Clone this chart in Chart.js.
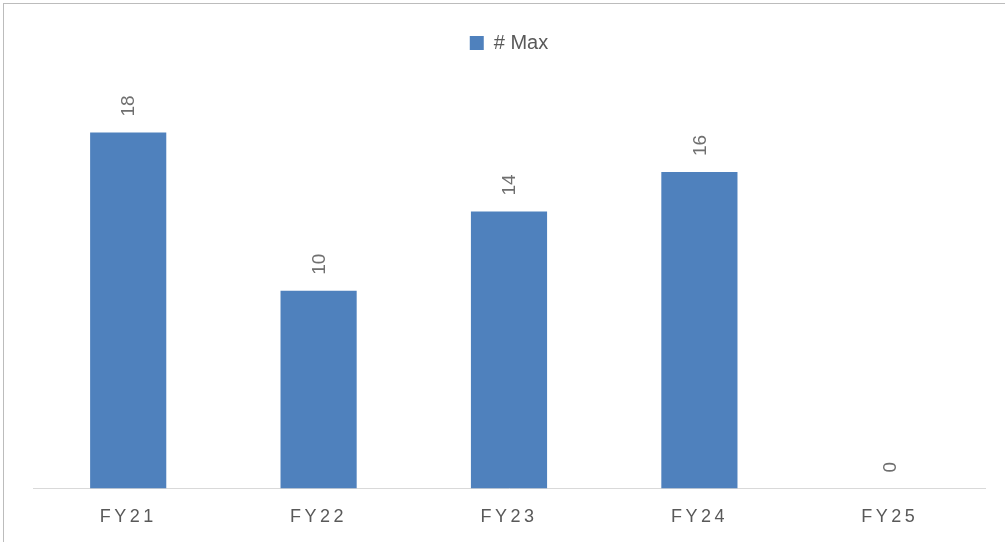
<!DOCTYPE html>
<html>
<head>
<meta charset="utf-8">
<script src="https://cdn.jsdelivr.net/npm/chart.js@4.4.1/dist/chart.umd.min.js"></script>
<style>
  html, body { margin: 0; padding: 0; background: #ffffff; }
  #wrap { position: relative; width: 1005px; height: 542px; overflow: hidden; }
  #frame { position: absolute; left: 3px; top: 3px; width: 1100px; height: 700px;
           border-top: 1px solid #bcbcbc; border-left: 1px solid #bcbcbc; pointer-events: none; }
</style>
</head>
<body>
<div id="wrap">
  <canvas id="chart" width="1005" height="542"></canvas>
  <div id="frame"></div>
</div>
<script>
const categories = ['FY21', 'FY22', 'FY23', 'FY24', 'FY25'];
const seriesName = '# Max';
const maxValues = [18, 10, 14, 16, 0];

const BAR_BLUE = '#4f81bd';
const TEXT_GREY = '#595959';
const LABEL_GREY = '#6f6f6f';
const FONT = "'Liberation Sans', 'DejaVu Sans', sans-serif";

// Empty layout box that leaves room between the legend and the plot
const legendGap = {
  id: 'legendGap',
  beforeInit(chart) {
    Chart.layouts.addBox(chart, {
      position: 'top',
      weight: 500,
      fullSize: true,
      options: {},
      isHorizontal() { return true; },
      update(maxWidth) { this.width = maxWidth; this.height = 30; },
      draw() {}
    });
  }
};

// Rotated value labels above each bar, then letter-spaced category labels
const valueLabels = {
  id: 'valueLabels',
  afterDatasetsDraw(chart) {
    const ctx = chart.ctx;
    const meta = chart.getDatasetMeta(0);
    ctx.save();
    ctx.fillStyle = LABEL_GREY;
    ctx.font = '19px ' + FONT;
    ctx.textAlign = 'left';
    ctx.textBaseline = 'middle';
    meta.data.forEach((bar, i) => {
      const v = chart.data.datasets[0].data[i];
      ctx.save();
      ctx.translate(bar.x, bar.y - 16);
      ctx.rotate(-Math.PI / 2);
      ctx.fillText(String(v), 0, 1);
      ctx.restore();
    });
    ctx.restore();
    ctx.letterSpacing = '3.5px';
  },
  afterDraw(chart) {
    chart.ctx.letterSpacing = '0px';
  }
};

new Chart(document.getElementById('chart'), {
  type: 'bar',
  data: {
    labels: categories,
    datasets: [{
      label: seriesName,
      data: maxValues,
      backgroundColor: BAR_BLUE,
      borderWidth: 0,
      categoryPercentage: 0.8,
      barPercentage: 0.5
    }]
  },
  options: {
    responsive: false,
    animation: false,
    devicePixelRatio: 1,
    layout: { padding: { left: 33, right: 20, top: 27, bottom: 4 } },
    plugins: {
      legend: {
        position: 'top',
        labels: {
          boxWidth: 14,
          boxHeight: 14,
          padding: 6,
          color: TEXT_GREY,
          font: { size: 20, family: FONT }
        }
      },
      tooltip: { enabled: false }
    },
    scales: {
      x: {
        grid: { display: false },
        border: { color: '#d9d9d9', width: 1 },
        ticks: {
          z: 1,
          color: TEXT_GREY,
          padding: 10,
          font: { size: 18, family: FONT }
        }
      },
      y: {
        display: false,
        min: 0,
        max: 20
      }
    }
  },
  plugins: [legendGap, valueLabels]
});
</script>
</body>
</html>
